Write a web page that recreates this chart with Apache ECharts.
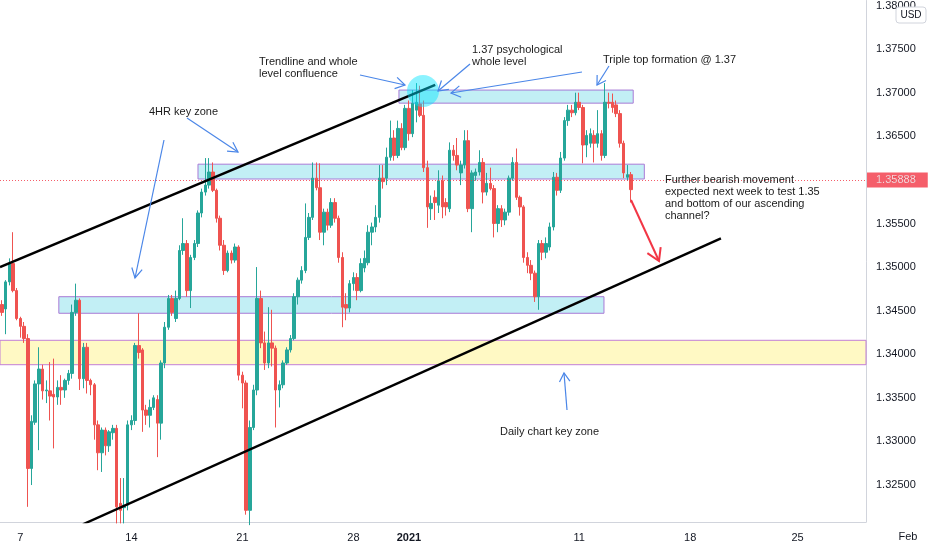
<!DOCTYPE html>
<html><head><meta charset="utf-8">
<script src="https://cdn.jsdelivr.net/npm/echarts@6/dist/echarts.min.js"></script>
<style>html,body{margin:0;padding:0;background:#fff}#c{width:932px;height:550px}</style>
</head><body><div id="c"></div>
<script>
// ---- data (GBPUSD 4H) ----
const opens = [1.3457,1.3452,1.3483,1.3504,1.3473,1.3441,1.3432,1.3418,1.3269,1.3322,1.3366,1.3383,1.3358,1.3358,1.3354,1.3351,1.3362,1.3359,1.3370,1.3378,
1.3448,1.3462,1.3372,1.3408,1.3370,1.3365,1.3319,1.3287,1.3313,1.3295,1.3310,1.3315,1.3229,1.3224,1.3227,1.3319,1.3324,1.3410,1.3405,1.3336,
1.3330,1.3339,1.3348,1.3321,1.3390,1.3431,1.3464,1.3441,1.3464,1.3519,1.3527,1.3473,1.3511,1.3527,1.3562,1.3586,1.3594,1.3609,1.3588,1.3556,
1.3525,1.3496,1.3516,1.3508,1.3523,1.3376,1.3367,1.3221,1.3316,1.3359,1.3464,1.3413,1.3390,1.3413,1.3407,1.3359,1.3365,1.3390,1.3405,1.3418,
1.3466,1.3485,1.3496,1.3534,1.3557,1.3602,1.3591,1.3540,1.3563,1.3548,1.3574,1.3556,1.3511,1.3457,1.3453,1.3481,1.3488,1.3473,1.3499,1.3505,
1.3540,1.3546,1.3557,1.3602,1.3602,1.3626,1.3648,1.3628,1.3659,1.3637,1.3682,1.3653,1.3680,1.3687,1.3674,1.3614,1.3567,1.3580,1.3571,1.3599,
1.3574,1.3567,1.3634,1.3628,1.3608,1.3617,1.3645,1.3567,1.3605,1.3609,1.3620,1.3586,1.3596,1.3590,1.3550,1.3567,1.3554,1.3563,1.3602,1.3620,
1.3580,1.3569,1.3511,1.3502,1.3493,1.3466,1.3527,1.3517,1.3523,1.3546,1.3603,1.3588,1.3625,1.3668,1.3680,1.3677,1.3689,1.3683,1.3640,1.3642,
1.3651,1.3642,1.3653,1.3628,1.3689,1.3689,1.3686,1.3676,1.3642,1.3603,1.3606];
const closes = [1.3448,1.3483,1.3504,1.3473,1.3441,1.3432,1.3418,1.3269,1.3323,1.3366,1.3383,1.3358,1.3359,1.3352,1.3351,1.3362,1.3359,1.3370,1.3378,1.3448,
1.3462,1.3372,1.3408,1.3370,1.3365,1.3319,1.3287,1.3313,1.3295,1.3311,1.3315,1.3225,1.3221,1.3227,1.3319,1.3324,1.3410,1.3402,1.3336,1.3330,
1.3339,1.3350,1.3321,1.3390,1.3431,1.3464,1.3448,1.3464,1.3519,1.3527,1.3473,1.3511,1.3527,1.3562,1.3586,1.3594,1.3609,1.3588,1.3556,1.3525,
1.3496,1.3516,1.3508,1.3523,1.3376,1.3367,1.3221,1.3316,1.3359,1.3464,1.3413,1.3390,1.3413,1.3407,1.3359,1.3365,1.3390,1.3405,1.3418,1.3466,
1.3485,1.3496,1.3534,1.3557,1.3602,1.3591,1.3540,1.3563,1.3548,1.3574,1.3556,1.3511,1.3454,1.3453,1.3481,1.3488,1.3473,1.3504,1.3510,1.3540,
1.3546,1.3557,1.3602,1.3598,1.3626,1.3648,1.3628,1.3659,1.3637,1.3682,1.3653,1.3688,1.3689,1.3674,1.3614,1.3569,1.3573,1.3574,1.3599,1.3569,
1.3569,1.3634,1.3628,1.3617,1.3617,1.3645,1.3567,1.3608,1.3609,1.3620,1.3586,1.3596,1.3590,1.3550,1.3567,1.3554,1.3563,1.3602,1.3620,1.3580,
1.3569,1.3511,1.3502,1.3493,1.3466,1.3527,1.3517,1.3527,1.3546,1.3603,1.3588,1.3625,1.3668,1.3680,1.3677,1.3689,1.3683,1.3640,1.3651,1.3653,
1.3642,1.3653,1.3628,1.3689,1.3688,1.3683,1.3676,1.3642,1.3608,1.3606,1.35888];
const lows = [1.3444,1.3423,1.3479,1.3471,1.3439,1.3419,1.3413,1.3225,1.3250,1.3319,1.3290,1.3348,1.3344,1.3324,1.3292,1.3342,1.3342,1.3350,1.3365,1.3372,
1.3444,1.3359,1.3361,1.3355,1.3353,1.3302,1.3267,1.3265,1.3284,1.3288,1.3302,1.3206,1.3206,1.3206,1.3221,1.3313,1.3319,1.3395,1.3311,1.3319,
1.3316,1.3336,1.3282,1.3302,1.3384,1.3428,1.3444,1.3437,1.3462,1.3514,1.3466,1.3453,1.3508,1.3523,1.3557,1.3582,1.3590,1.3586,1.3551,1.3519,
1.3491,1.3494,1.3504,1.3505,1.3370,1.3338,1.3216,1.3204,1.3313,1.3353,1.3407,1.3382,1.3384,1.3386,1.3316,1.3339,1.3361,1.3388,1.3402,1.3416,
1.3457,1.3481,1.3493,1.3531,1.3554,1.3588,1.3531,1.3525,1.3542,1.3545,1.3551,1.3505,1.3431,1.3439,1.3448,1.3473,1.3462,1.3471,1.3494,1.3502,
1.3525,1.3540,1.3551,1.3590,1.3594,1.3622,1.3622,1.3625,1.3634,1.3634,1.3645,1.3649,1.3666,1.3672,1.3609,1.3545,1.3554,1.3554,1.3562,1.3556,
1.3559,1.3563,1.3622,1.3611,1.3594,1.3613,1.3563,1.3540,1.3599,1.3605,1.3573,1.3582,1.3588,1.3534,1.3540,1.3546,1.3548,1.3559,1.3599,1.3577,
1.3559,1.3505,1.3493,1.3485,1.3460,1.3451,1.3508,1.3510,1.3519,1.3542,1.3582,1.3585,1.3622,1.3662,1.3672,1.3674,1.3680,1.3619,1.3626,1.3637,
1.3620,1.3637,1.3622,1.3625,1.3682,1.3677,1.3672,1.3637,1.3602,1.3599,1.3574];
const highs = [1.3462,1.3485,1.3510,1.3540,1.3476,1.3443,1.3437,1.3423,1.3330,1.3370,1.3408,1.3388,1.3370,1.3391,1.3395,1.3370,1.3376,1.3372,1.3382,1.3457,
1.3481,1.3464,1.3413,1.3413,1.3372,1.3367,1.3324,1.3316,1.3316,1.3313,1.3319,1.3319,1.3258,1.3258,1.3324,1.3330,1.3413,1.3447,1.3407,1.3342,
1.3348,1.3353,1.3353,1.3393,1.3437,1.3468,1.3468,1.3473,1.3525,1.3556,1.3531,1.3514,1.3531,1.3565,1.3590,1.3625,1.3625,1.3620,1.3590,1.3559,
1.3531,1.3519,1.3519,1.3527,1.3525,1.3380,1.3370,1.3324,1.3365,1.3500,1.3473,1.3426,1.3454,1.3451,1.3410,1.3370,1.3393,1.3408,1.3422,1.3470,
1.3488,1.3501,1.3573,1.3562,1.3620,1.3620,1.3619,1.3567,1.3567,1.3579,1.3579,1.3559,1.3517,1.3470,1.3485,1.3494,1.3493,1.3510,1.3519,1.3548,
1.3551,1.3571,1.3617,1.3617,1.3637,1.3668,1.3657,1.3668,1.3665,1.3686,1.3691,1.3703,1.3711,1.3708,1.3691,1.3622,1.3582,1.3588,1.3611,1.3605,
1.3579,1.3643,1.3640,1.3648,1.3622,1.3657,1.3657,1.3611,1.3613,1.3634,1.3625,1.3608,1.3614,1.3594,1.3571,1.3571,1.3567,1.3605,1.3626,1.3636,
1.3582,1.3571,1.3517,1.3508,1.3496,1.3531,1.3531,1.3534,1.3551,1.3609,1.3608,1.3632,1.3672,1.3686,1.3686,1.3700,1.3700,1.3686,1.3657,1.3659,
1.3657,1.3680,1.3657,1.3711,1.3700,1.3699,1.3691,1.3680,1.3645,1.3617,1.3609];
const lastPrice = 1.35888;
const barCount = 234;                       // slots on the time axis (incl. empty future space)
const xTickIndex = [5, 35, 65, 95, 110, 156, 186, 215];
const xTickText  = ['7', '14', '21', '28', '2021', '11', '18', '25'];
const yTicks = [1.325, 1.33, 1.335, 1.34, 1.345, 1.35, 1.355, 1.36, 1.365, 1.37, 1.375, 1.38];
// drawings in [bar position, price]
const upperTrend = [[-0.5, 1.3500], [117.1, 1.3709]];
const lowerTrend = [[21.9, 1.3205], [194.3, 1.3533]];
const zones = [ // [x0, x1, priceLow, priceHigh]
  [107.3, 170.6, 1.3688, 1.3703],
  [53.0, 173.6, 1.3601, 1.3618],
  [15.4, 162.7, 1.3447, 1.3466]
];
const dailyZone = [1.3388, 1.3416];

// ---- chart ----
const categories = Array.from({length: barCount}, (_, i) => String(i));
const candles = opens.map((o, i) => [o, closes[i], lows[i], highs[i]]);
const chart = echarts.init(document.getElementById('c'), null, {renderer: 'canvas'});

const FONT = '"Liberation Sans", Arial, sans-serif';
const txtCol = '#131722';
const blue = '#4a86e8';

function arrow(x1, y1, x2, y2, color, w, len, ang) {
  const a = Math.atan2(y1 - y2, x1 - x2);
  return [
    {type: 'line', z: 100, shape: {x1, y1, x2, y2}, style: {stroke: color, lineWidth: w}},
    {type: 'polyline', z: 100, shape: {points: [
      [x2 + len * Math.cos(a + ang), y2 + len * Math.sin(a + ang)], [x2, y2],
      [x2 + len * Math.cos(a - ang), y2 + len * Math.sin(a - ang)]]},
      style: {stroke: color, lineWidth: w, fill: null}}
  ];
}
function label(text, x, y, opt) {
  return Object.assign({type: 'text', z: 100, style: Object.assign({text, x, y, fill: '#1b1b1b',
    font: '11px ' + FONT, lineHeight: 12, verticalAlign: 'top'}, opt || {})});
}

const graphics = [
  {type: 'circle', z: 90, shape: {cx: 423, cy: 91, r: 16}, style: {fill: 'rgba(0,229,255,0.45)'}},
  label('4HR key zone', 149, 106),
  label('Trendline and whole\nlevel confluence', 259, 56),
  label('1.37 psychological\nwhole level', 472, 44),
  label('Triple top formation @ 1.37', 603, 54),
  label('Further bearish movement\nexpected next week to test 1.35\nand bottom of our ascending\nchannel?', 665, 174),
  label('Daily chart key zone', 500, 426),
  ...arrow(164, 140, 135, 278, blue, 1.2, 11, 0.5),
  ...arrow(187, 118, 238, 152, blue, 1.2, 11, 0.5),
  ...arrow(360, 75, 405, 85, blue, 1.2, 11, 0.55),
  ...arrow(470, 64, 438, 91, blue, 1.2, 11, 0.55),
  ...arrow(582, 72, 451, 93, blue, 1.2, 11, 0.55),
  ...arrow(609, 66, 597, 85, blue, 1.2, 10, 0.55),
  ...arrow(567, 410, 564, 373, blue, 1.2, 10, 0.55),
  ...arrow(631, 200, 659, 261, '#f23645', 2, 14, 0.55),
  {type: 'rect', z: 100, shape: {x: 896, y: 7, width: 30, height: 16, r: 3}, style: {fill: '#fff', stroke: '#d1d4dc', lineWidth: 1}},
  {type: 'text', z: 101, style: {text: 'USD', x: 911, y: 15, fill: txtCol, font: '10px ' + FONT, align: 'center', verticalAlign: 'middle'}},
  {type: 'text', z: 101, style: {text: 'Feb', x: 908, y: 537, fill: txtCol, font: '11px ' + FONT, align: 'center', verticalAlign: 'middle'}}
];

chart.setOption({
  animation: false,
  backgroundColor: '#ffffff',
  grid: {left: 0, right: 66, top: 0, bottom: 28, containLabel: false},
  xAxis: [{
    type: 'category', data: categories, boundaryGap: true,
    axisLine: {show: true, onZero: false, lineStyle: {color: '#d1d4dc'}},
    axisTick: {show: false}, splitLine: {show: false},
    axisLabel: {
      interval: (i) => xTickIndex.includes(i),
      formatter: (v, i) => { const k = xTickIndex.indexOf(Number(v)); if (k < 0) return ''; const t = xTickText[k]; return t === '2021' ? '{b|2021}' : t; },
      color: txtCol, fontSize: 11, fontFamily: FONT, margin: 10,
      rich: {b: {fontWeight: 'bold', fontSize: 11, color: txtCol, fontFamily: FONT}}
    }
  }, {
    type: 'value', min: -0.5, max: barCount - 0.5, show: false,
    axisLine: {show: false, onZero: false}
  }],
  yAxis: {
    type: 'value', position: 'right', min: 1.32076, max: 1.380573,
    axisLine: {show: true, onZero: false, lineStyle: {color: '#d1d4dc'}},
    axisTick: {show: false}, splitLine: {show: false},
    axisLabel: {customValues: yTicks, formatter: (v) => v.toFixed(5), color: txtCol, fontSize: 11, fontFamily: FONT, margin: 10}
  },
  series: [
    {
      name: 'zones', type: 'line', xAxisIndex: 1, z: 1, symbol: 'none', silent: true,
      data: [[0, 1.35]], lineStyle: {opacity: 0},
      markArea: {
        silent: true,
        data: zones.map(z => [
          {coord: [z[0], z[2]], itemStyle: {color: 'rgba(0,188,212,0.24)', borderColor: '#a97ad6', borderWidth: 1}},
          {coord: [z[1], z[3]]}
        ]).concat([[
          {coord: [-0.5, dailyZone[0]], itemStyle: {color: 'rgba(255,235,59,0.30)', borderColor: '#c27fd6', borderWidth: 1}},
          {coord: [barCount - 0.5, dailyZone[1]]}
        ]])
      }
    },
    {
      name: 'GBPUSD', type: 'candlestick', xAxisIndex: 0, z: 2, data: candles, barWidth: 3,
      itemStyle: {color: '#26a69a', color0: '#ef5350', borderColor: '#26a69a', borderColor0: '#ef5350', borderWidth: 1},
      markLine: {
        silent: true, symbol: 'none',
        lineStyle: {color: '#f23645', type: [1, 2], width: 1, opacity: 0.8},
        label: {position: 'end', distance: 1, formatter: lastPrice.toFixed(5), color: '#fff', backgroundColor: '#f23645',
          padding: [2, 12, 2, 9], fontSize: 11, fontFamily: FONT},
        data: [{yAxis: lastPrice}]
      }
    },
    {
      name: 'upper', type: 'line', xAxisIndex: 1, z: 5, symbol: 'none', silent: true,
      data: upperTrend, lineStyle: {color: '#000', width: 2.5}
    },
    {
      name: 'lower', type: 'line', xAxisIndex: 1, z: 5, symbol: 'none', silent: true,
      data: lowerTrend, lineStyle: {color: '#000', width: 2.5}
    }
  ],
  graphic: graphics
});
</script></body></html>
